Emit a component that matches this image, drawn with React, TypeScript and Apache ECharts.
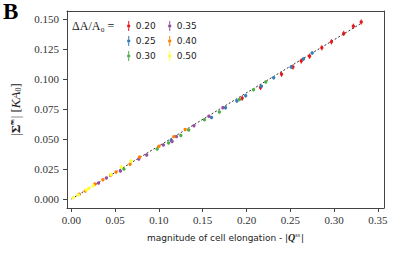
import React, { useEffect, useRef } from "react";
import * as echarts from "echarts";

const seriesNames = ["0.20", "0.25", "0.30", "0.35", "0.40", "0.50"];
const seriesColors = ["#e41a1c", "#377eb8", "#4daf4a", "#984ea3", "#ff7f00", "#ffff33"];

const red: number[][] = [
  [0.331, 0.1475], [0.322, 0.144], [0.311, 0.138], [0.297, 0.131], [0.286, 0.126],
  [0.272, 0.119], [0.2625, 0.115], [0.253, 0.110], [0.240, 0.104], [0.216, 0.093], [0.195, 0.084],
];
const blue: number[][] = [
  [0.275, 0.1217], [0.265, 0.1167], [0.251, 0.110], [0.231, 0.101], [0.217, 0.094],
  [0.199, 0.086], [0.189, 0.0817], [0.176, 0.076], [0.160, 0.068], [0.114, 0.049],
];
const green: number[][] = [
  [0.222, 0.0975], [0.208, 0.091], [0.192, 0.083], [0.169, 0.0725], [0.152, 0.066],
  [0.134, 0.0575], [0.125, 0.053], [0.111, 0.0467], [0.098, 0.0417], [0.060, 0.025],
];
const purple: number[][] = [
  [0.173, 0.076], [0.157, 0.069], [0.140, 0.061], [0.120, 0.052], [0.115, 0.048],
  [0.105, 0.045], [0.086, 0.0367], [0.077, 0.0333], [0.056, 0.0233], [0.040, 0.0175], [0.031, 0.0133],
];
const orange: number[][] = [
  [0.130, 0.058], [0.117, 0.052], [0.100, 0.044], [0.078, 0.035], [0.067, 0.029],
  [0.051, 0.0225], [0.045, 0.020], [0.036, 0.016], [0.027, 0.0125], [0.016, 0.0067], [0.009, 0.004],
];
const yellow: number[][] = [
  [0.068, 0.0317], [0.057, 0.0267], [0.045, 0.0205], [0.025, 0.011], [0.020, 0.009],
  [0.017, 0.0075], [0.008, 0.0033], [0.002, 0.001],
];
const seriesData = [red, blue, green, purple, orange, yellow];
const seriesErrors = [0.0022, 0.0012, 0.001, 0.001, 0.001, 0.0008];

const fitLine: number[][] = [[0, 0], [0.33, 0.146]];

const xTicks = [0, 0.05, 0.1, 0.15, 0.2, 0.25, 0.3, 0.35];
const yTicks = [0, 0.025, 0.05, 0.075, 0.1, 0.125, 0.15];

const legendIcon =
  "path://M4.5,0h1v3.4h-1z M4.5,6.6h1v3.4h-1z M3.3,5a1.7,1.7 0 1,0 3.4,0a1.7,1.7 0 1,0 -3.4,0z";

export default function App() {
  const ref = useRef<HTMLDivElement>(null);
  useEffect(() => {
    if (!ref.current) return;
    const chart = echarts.init(ref.current, null, { renderer: "svg" });
    const serif = "'Liberation Serif', serif";
    const sans = "'DejaVu Sans', sans-serif";
    const axisColor = "#444";

    const dataSeries = seriesData.map((pts, i) => ({
      type: "custom",
      name: seriesNames[i],
      color: seriesColors[i],
      itemStyle: { color: seriesColors[i] },
      data: pts.map((p) => [p[0], p[1], seriesErrors[i]]),
      renderItem: (params: any, api: any) => {
        const x = api.value(0);
        const y = api.value(1);
        const e = api.value(2);
        const c = api.coord([x, y]);
        const t = api.coord([x, y + e]);
        const b = api.coord([x, y - e]);
        return {
          type: "group",
          children: [
            { type: "line", shape: { x1: c[0], y1: t[1], x2: c[0], y2: b[1] }, style: { stroke: seriesColors[i], lineWidth: 1 } },
            { type: "circle", shape: { cx: c[0], cy: c[1], r: 1.7 }, style: { fill: seriesColors[i] } },
          ],
        };
      },
      z: 3,
    }));

    const legendCommon = {
      orient: "vertical",
      itemWidth: 6,
      itemHeight: 10,
      itemGap: 5,
      icon: legendIcon,
      textStyle: { fontFamily: sans, fontSize: 9, color: "#222", padding: [0, 0, 0, -1] },
      padding: 0,
    };

    chart.setOption({
      animation: false,
      backgroundColor: "#fff",
      grid: { left: 66, right: 15, top: 11, bottom: 46 },
      legend: [
        { ...legendCommon, left: 127, top: 21, data: seriesNames.slice(0, 3) },
        { ...legendCommon, left: 168, top: 21, data: seriesNames.slice(3) },
      ],
      graphic: [
        { type: "text", left: 3, top: 0, style: { text: "B", font: "bold 23px 'Liberation Serif', serif", fill: "#000" } },
        { type: "text", left: 72, top: 20, style: { text: "ΔA/A₀ =", font: "12px 'Liberation Serif', serif", fill: "#222" } },
      ],
      xAxis: [
        {
          type: "value",
          min: -0.005,
          max: 0.357,
          name: "{t|magnitude of cell elongation - |}{q|Q}{s|ss}{t||}",
          nameLocation: "middle",
          nameGap: 24,
          nameTextStyle: {
            rich: {
              t: { fontFamily: sans, fontSize: 9, color: "#222" },
              q: { fontFamily: serif, fontSize: 10, fontWeight: "bold", fontStyle: "italic", color: "#222" },
              s: { fontFamily: serif, fontSize: 6, color: "#222", verticalAlign: "top", padding: [0, 1, 5, 0] },
            },
          },
          axisLine: { show: true, onZero: false, lineStyle: { color: axisColor, width: 1 } },
          axisTick: { show: true, length: 4, customValues: xTicks, lineStyle: { color: axisColor } },
          axisLabel: {
            customValues: xTicks,
            formatter: (v: number) => v.toFixed(2),
            fontFamily: serif,
            fontSize: 11,
            color: "#333",
            margin: 6,
          },
          splitLine: { show: false },
        },
        {
          type: "value",
          position: "top",
          min: -0.005,
          max: 0.357,
          axisLine: { show: true, onZero: false, lineStyle: { color: axisColor, width: 1 } },
          axisTick: { show: false },
          axisLabel: { show: false },
          splitLine: { show: false },
        },
      ],
      yAxis: [
        {
          type: "value",
          min: -0.0075,
          max: 0.1567,
          name: "{t||}{g|Σ̃}{s|ss}{t|| [}{i|KA}{b|0}{t|]}",
          nameLocation: "middle",
          nameGap: 45,
          nameRotate: 90,
          nameTextStyle: {
            rich: {
              t: { fontFamily: serif, fontSize: 13, color: "#222" },
              g: { fontFamily: serif, fontSize: 13, fontWeight: "bold", color: "#222" },
              i: { fontFamily: serif, fontSize: 13, fontStyle: "italic", color: "#222" },
              s: { fontFamily: serif, fontSize: 7, color: "#222", verticalAlign: "top", padding: [0, 1, 7, 0] },
              b: { fontFamily: serif, fontSize: 8, color: "#222", verticalAlign: "bottom", padding: [5, 0, 0, 0] },
            },
          },
          axisLine: { show: true, onZero: false, lineStyle: { color: axisColor, width: 1 } },
          axisTick: { show: true, length: 4, customValues: yTicks, lineStyle: { color: axisColor } },
          axisLabel: {
            customValues: yTicks,
            formatter: (v: number) => v.toFixed(3),
            fontFamily: serif,
            fontSize: 11,
            color: "#333",
            margin: 8,
          },
          splitLine: { show: false },
        },
        {
          type: "value",
          position: "right",
          min: -0.0075,
          max: 0.1567,
          axisLine: { show: true, onZero: false, lineStyle: { color: axisColor, width: 1 } },
          axisTick: { show: false },
          axisLabel: { show: false },
          splitLine: { show: false },
        },
      ],
      series: [
        {
          type: "line",
          data: fitLine,
          symbol: "none",
          lineStyle: { color: "#333", width: 1, type: [2, 2] },
          z: 2,
          silent: true,
        },
        ...dataSeries,
      ],
    });
    return () => chart.dispose();
  }, []);
  return <div ref={ref} style={{ position: "fixed", left: 0, top: 0, width: 399, height: 254 }} />;
}
